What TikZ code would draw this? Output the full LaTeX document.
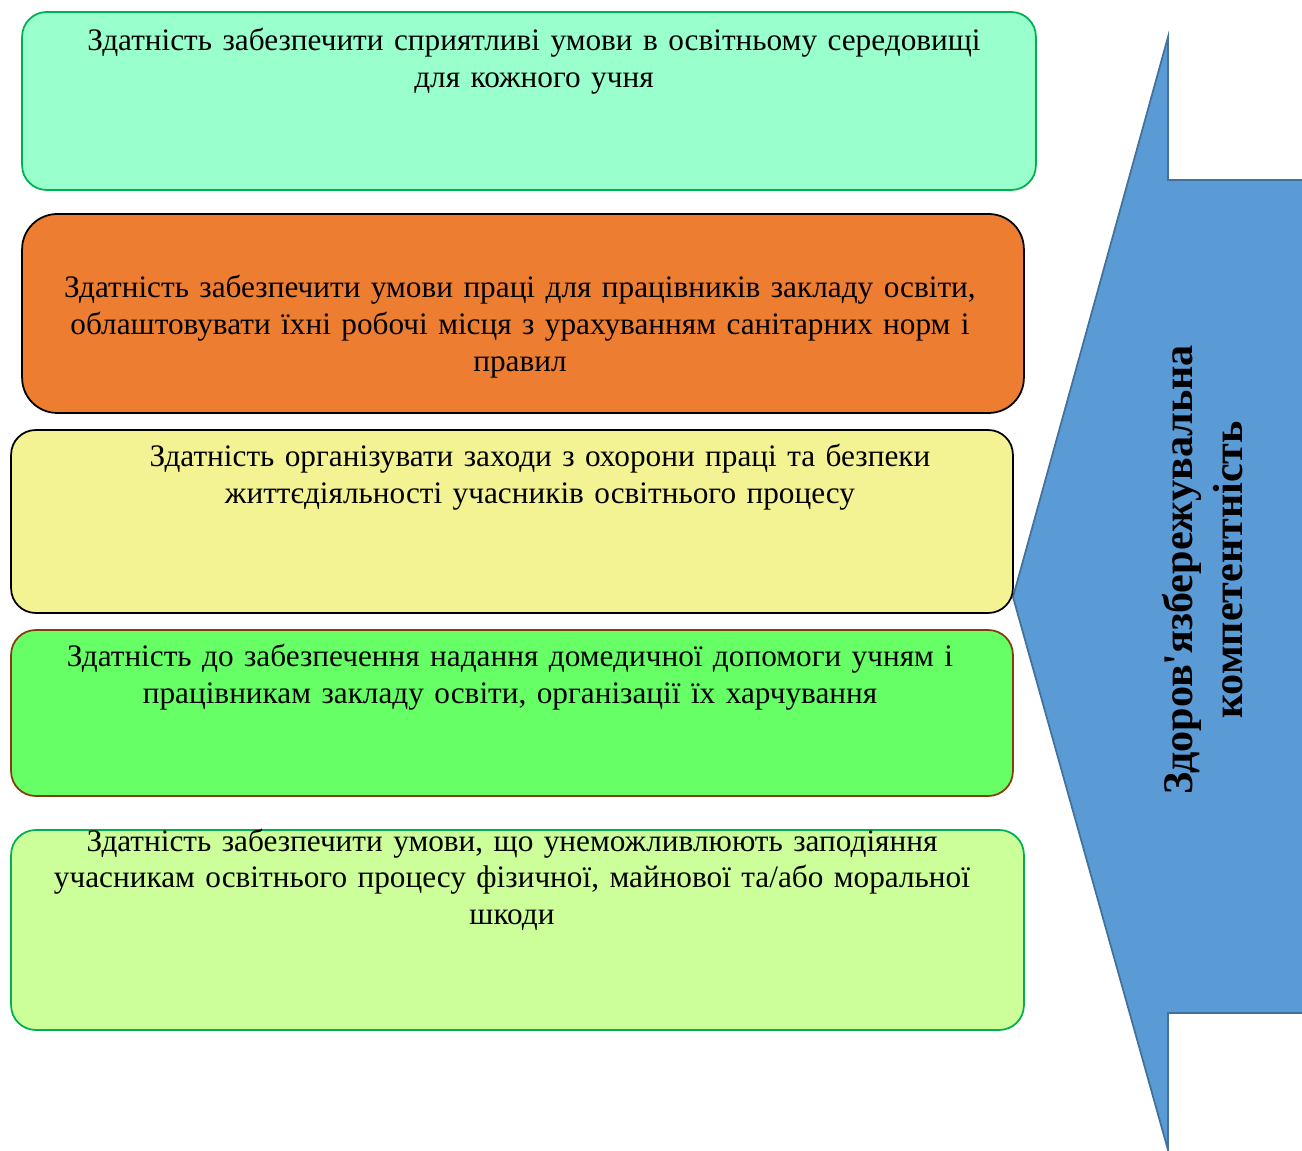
\documentclass[tikz,border=0pt]{standalone}
\usepackage{fontspec}
\setmainfont{Liberation Serif}
\newfontfamily\sidefont{Liberation Serif}
\usetikzlibrary{positioning}
\definecolor{aquafill}{HTML}{99FFCC}
\definecolor{orangefill}{HTML}{ED7D31}
\definecolor{yellowfill}{HTML}{F3F393}
\definecolor{limefill}{HTML}{66FF66}
\definecolor{palefill}{HTML}{CCFF99}
\definecolor{greenline}{HTML}{00B050}
\definecolor{brownline}{HTML}{843C0C}
\definecolor{arrowfill}{HTML}{5B9BD5}
\definecolor{arrowline}{HTML}{41719C}
\tikzset{comp box/.style={draw,rounded corners=14pt,line width=1pt,inner sep=0pt},
         comp text/.style={anchor=base,align=center,inner sep=0pt,text width=20cm,font=\fontsize{17.8}{21}\selectfont},}

\begin{document}
\begin{tikzpicture}[x=0.02cm,y=-0.02cm]
    \useasboundingbox (0,0) rectangle (1302,1151);

    % side arrow
    \draw[fill=arrowfill,draw=arrowline,line width=1pt]
        (1013,597) -- (1168,37) -- (1168,180) -- (1320,180) -- (1320,1013)
        -- (1168,1013) -- (1168,1150) -- cycle;
    \node[rotate=90,anchor=base,align=center,inner sep=0pt,
          font=\sidefont\bfseries\fontsize{24}{28}\selectfont] (label) at (1242,570)
        {Здоров'язбережувальна\\компетентність};

    % boxes
    \node[comp box,fill=aquafill,draw=greenline,minimum width=20.28cm,minimum height=3.56cm] (b1) at (529,101) {};
    \node[comp box,fill=orangefill,draw=black,rounded corners=20pt,minimum width=20.04cm,minimum height=3.98cm] (b2) at (523,313.5) {};
    \node[comp box,fill=yellowfill,draw=black,minimum width=20.04cm,minimum height=3.66cm] (b3) at (512,521.5) {};
    \node[comp box,fill=limefill,draw=brownline,minimum width=20.04cm,minimum height=3.32cm] (b4) at (512,713) {};
    \node[comp box,fill=palefill,draw=greenline,minimum width=20.26cm,minimum height=4cm] (b5) at (517.5,930) {};

    % texts
    \node[comp text] (t1) at (534,51)
        {Здатність забезпечити сприятливі умови в освітньому середовищі\\для кожного учня};
    \node[comp text] (t2) at (520,298)
        {Здатність забезпечити умови праці для працівників закладу освіти,\\облаштовувати їхні робочі місця з урахуванням санітарних норм і\\правил};
    \node[comp text] (t3) at (540,467)
        {Здатність організувати заходи з охорони праці та безпеки\\життєдіяльності учасників освітнього процесу};
    \node[comp text] (t4) at (510,667)
        {Здатність до забезпечення надання домедичної допомоги учням і\\працівникам закладу освіти, організації їх харчування};
    \node[comp text] (t5) at (512,851)
        {Здатність забезпечити умови, що унеможливлюють заподіяння\\учасникам освітнього процесу фізичної, майнової та/або моральної\\шкоди};
\end{tikzpicture}
\end{document}
